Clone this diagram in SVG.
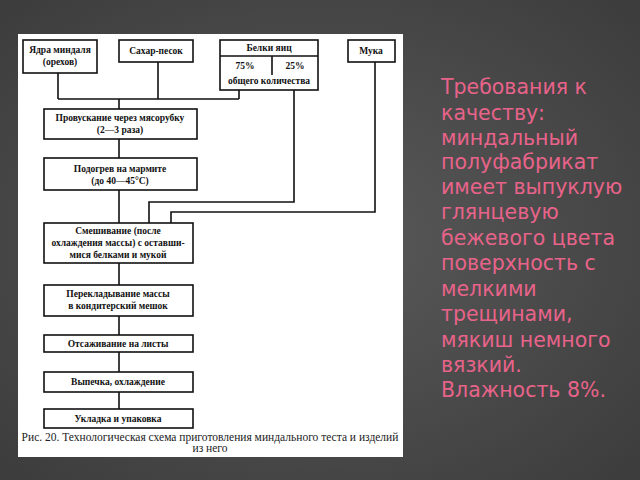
<svg xmlns="http://www.w3.org/2000/svg" width="640" height="480" viewBox="0 0 640 480">
<defs>
<radialGradient id="bg" cx="0.5" cy="0.5" r="0.75">
<stop offset="0" stop-color="#5a5a5a"/><stop offset="1" stop-color="#3a3a3a"/>
</radialGradient>
<style>
.b{fill:#fff;stroke:#111;stroke-width:1.6}
.t{font-family:"Liberation Serif",serif;font-weight:bold;font-size:9.5px;fill:#111;text-anchor:middle}
.c{fill:none;stroke:#111;stroke-width:1.6}
.r{font-family:"DejaVu Sans",sans-serif;font-size:20.5px;fill:#e8638a}
.cap{font-family:"Liberation Serif",serif;font-size:11.5px;fill:#222;text-anchor:middle}
</style>
</defs>
<rect width="640" height="480" fill="url(#bg)"/>
<rect x="18" y="34" width="385" height="423" fill="#fff"/>
<g id="connectors" class="c">
<path d="M58 73V99M158 62V99M239 90V99M58 99H239M119 99V109"/>
<path d="M119 139V158M119 190V223"/>
<path d="M294 90V202H149V223"/>
<path d="M375 62V212H171V223"/>
<path d="M119 263V285M119 316V335M119 352V372M119 392V409"/>
</g>
<g id="n1"><rect class="b" x="23" y="40" width="74" height="33"/><text class="t" x="60" y="53">Ядра миндаля</text><text class="t" x="60" y="65">(орехов)</text></g>
<g id="n2"><rect class="b" x="119" y="40" width="74" height="22"/><text class="t" x="156" y="54">Сахар-песок</text></g>
<g id="n3"><rect class="b" x="220" y="40" width="98" height="50"/><path class="c" d="M220 56H318M272 56V75"/><text class="t" x="269" y="51">Белки яиц</text><text class="t" x="245" y="69">75%</text><text class="t" x="295" y="69">25%</text><text class="t" x="269" y="84">общего количества</text></g>
<g id="n4"><rect class="b" x="348" y="40" width="47" height="22"/><text class="t" x="371" y="54">Мука</text></g>
<g id="n5"><rect class="b" x="44" y="109" width="153" height="30"/><text class="t" x="120" y="121">Провускание через мясорубку</text><text class="t" x="120" y="133">(2—3 раза)</text></g>
<g id="n6"><rect class="b" x="44" y="158" width="153" height="32"/><text class="t" x="120" y="172">Подогрев на мармите</text><text class="t" x="120" y="184">(до 40—45°С)</text></g>
<g id="n7"><rect class="b" x="44" y="223" width="149" height="40"/><text class="t" x="118" y="234">Смешивание (после</text><text class="t" x="118" y="246">охлаждения массы) с оставши-</text><text class="t" x="118" y="258">мися белками и мукой</text></g>
<g id="n8"><rect class="b" x="44" y="285" width="149" height="31"/><text class="t" x="118" y="297">Перекладывание массы</text><text class="t" x="118" y="309">в кондитерский мешок</text></g>
<g id="n9"><rect class="b" x="44" y="335" width="149" height="17"/><text class="t" x="118" y="347">Отсаживание на листы</text></g>
<g id="n10"><rect class="b" x="44" y="372" width="149" height="20"/><text class="t" x="118" y="385">Выпечка, охлаждение</text></g>
<g id="n11"><rect class="b" x="44" y="409" width="149" height="19"/><text class="t" x="118" y="422">Укладка и упаковка</text></g>
<text class="cap" x="210" y="441">Рис. 20. Технологическая схема приготовления миндального теста и изделий</text>
<text class="cap" x="210" y="452">из него</text>
<g class="r">
<text x="441" y="94">Требования к</text>
<text x="441" y="120">качеству:</text>
<text x="441" y="145">миндальный</text>
<text x="441" y="169">полуфабрикат</text>
<text x="441" y="194">имеет выпуклую</text>
<text x="441" y="219">глянцевую</text>
<text x="441" y="245">бежевого цвета</text>
<text x="441" y="270">поверхность с</text>
<text x="441" y="296">мелкими</text>
<text x="441" y="321">трещинами,</text>
<text x="441" y="347">мякиш немного</text>
<text x="441" y="372">вязкий.</text>
<text x="441" y="397">Влажность 8%.</text>
</g>
</svg>
